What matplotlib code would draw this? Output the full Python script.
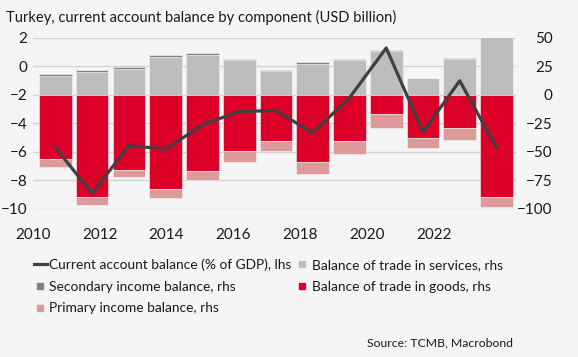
import matplotlib.pyplot as plt
import numpy as np
from matplotlib.lines import Line2D

plt.rcParams['font.family'] = ['Lato', 'DejaVu Sans']

years = [2010, 2011, 2012, 2013, 2014, 2015, 2016, 2017, 2018, 2019, 2020, 2021, 2022]
tick_years = [2010, 2012, 2014, 2016, 2018, 2020, 2022]

# USD billion (rhs)
services = [16.7, 20.2, 23.1, 33.6, 35.4, 30.7, 21.3, 27.5, 31.0, 38.6, 14.6, 31.6, 52.0]
secondary = [1.5, 1.7, 1.5, 1.7, 1.5, 1.2, 0.9, 1.7, 0.6, 1.0, 0.2, 1.1, 0.5]
goods = [-56.4, -89.2, -65.5, -82.2, -66.7, -49.1, -40.4, -59.0, -40.6, -16.9, -37.7, -29.2, -89.8]
primary = [-6.5, -7.0, -6.4, -8.4, -8.1, -9.4, -8.7, -10.3, -11.2, -11.8, -8.8, -10.5, -8.7]
# % of GDP (lhs)
ca_gdp = [-5.7, -8.9, -5.55, -5.8, -4.1, -3.15, -3.1, -4.65, -2.2, 1.3, -4.6, -1.0, -5.7]

c_red = '#dc0028'
c_pink = '#dd9a9a'
c_grey = '#bdbdbd'
c_sec = '#8c7f78'
c_line = '#404040'
c_text = '#1a1a1a'
bg = '#f5f5f5'

fig = plt.figure(figsize=(5.78, 3.57), dpi=100, facecolor=bg)
ax1 = fig.add_axes([0.0571, 0.4146, 0.8356, 0.479])
ax1.set_facecolor(bg)
ax2 = ax1.twinx()

# bars sit in category slots; the year ticks are put on the same scale
x = np.arange(len(years))
px_per_year = 33.6 / 37.0
tick_pos = [(t - 2010) * px_per_year - 22.5 / 37.0 for t in tick_years]

services = np.array(services)
secondary = np.array(secondary)
goods = np.array(goods)
primary = np.array(primary)

w = 0.89
ax2.bar(x, services, w, color=c_grey, edgecolor=bg, linewidth=0.4, zorder=2)
ax2.bar(x, secondary, w, bottom=services, color=c_sec, edgecolor=bg, linewidth=0.4, zorder=2)
ax2.bar(x, goods, w, color=c_red, edgecolor=bg, linewidth=0.4, zorder=2)
ax2.bar(x, primary, w, bottom=goods, color=c_pink, edgecolor=bg, linewidth=0.4, zorder=2)
ax2.set_ylim(-100, 50)
ax2.set_yticks([50, 25, 0, -25, -50, -75, -100])

ax1.set_ylim(-10, 2)
ax1.set_yticks([2, 0, -2, -4, -6, -8, -10])
ax1.set_xlim(-0.53, 12.53)
ax1.grid(axis='y', color='#d2d2d2', linewidth=1)
ax1.set_axisbelow(True)

# line drawn above the bars
ax3 = ax1.twinx()
ax3.set_ylim(-10, 2)
ax3.axis('off')
ax3.plot(x, ca_gdp, color=c_line, linewidth=2.3, zorder=5)

ax1.set_zorder(0)
ax2.set_zorder(1)
ax3.set_zorder(2)
ax2.patch.set_visible(False)

ax1.set_xticks(tick_pos)
ax1.set_xticklabels([str(t) for t in tick_years])

for a in (ax1, ax2, ax3):
    for s in a.spines.values():
        s.set_visible(False)
ax1.tick_params(axis='both', length=0, labelsize=11, colors=c_text)
ax1.tick_params(axis='y', pad=4)
ax1.tick_params(axis='x', pad=14)
ax2.tick_params(axis='y', length=0, labelsize=11, colors=c_text, pad=26.5)
for lab in ax2.get_yticklabels():
    lab.set_ha('right')

fig.text(0.01, 0.952, 'Turkey, current account balance by component (USD billion)',
         fontsize=10.6, color=c_text, va='center', ha='left')

handles = [
    Line2D([], [], color=c_line, linewidth=2.3),
    Line2D([], [], color=c_sec, marker='s', linestyle='none', markersize=5),
    Line2D([], [], color=c_pink, marker='s', linestyle='none', markersize=5),
    Line2D([], [], color=c_grey, marker='s', linestyle='none', markersize=5),
    Line2D([], [], color=c_red, marker='s', linestyle='none', markersize=5),
]
labels = [
    'Current account balance (% of GDP), lhs',
    'Secondary income balance, rhs',
    'Primary income balance, rhs',
    'Balance of trade in services, rhs',
    'Balance of trade in goods, rhs',
]
leg = fig.legend(handles, labels, ncol=2, loc='upper left', bbox_to_anchor=(0.058, 0.277),
                 frameon=False, fontsize=9.9, handlelength=0.95,
                 handletextpad=0.2, columnspacing=0.3, labelspacing=0.72,
                 borderaxespad=0, borderpad=0)
for t in leg.get_texts():
    t.set_color(c_text)

fig.text(0.888, 0.04, 'Source: TCMB, Macrobond', fontsize=8.8, color=c_text,
         ha='right', va='center')

fig.savefig('out.png', dpi=100, facecolor=bg)
